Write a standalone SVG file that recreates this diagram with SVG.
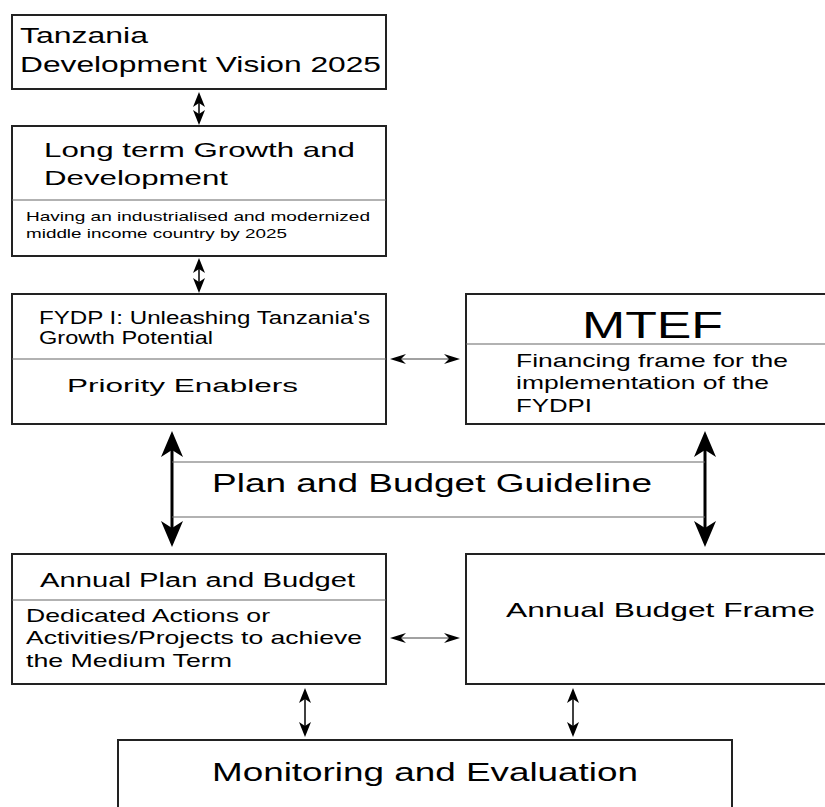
<svg xmlns="http://www.w3.org/2000/svg" width="825" height="807" viewBox="0 0 825 807">
<style>
  .box { fill: #fff; stroke: #222; stroke-width: 2; }
  .div { stroke: #666; stroke-width: 1.2; fill: none; }
  .t { font-family: "Liberation Sans", Arial, sans-serif; fill: #000; }
  .thick { stroke: #000; stroke-width: 3; fill: none; marker-start: url(#hb); marker-end: url(#hb); }
  .small { stroke: #000; stroke-width: 1.5; fill: none; marker-start: url(#hs); marker-end: url(#hs); }
  .horiz { stroke: #444; stroke-width: 1; fill: none; marker-start: url(#hh); marker-end: url(#hh); }
</style>
<defs>
  <marker id="hb" viewBox="0 0 26 22" refX="20" refY="11" markerWidth="26" markerHeight="22" markerUnits="userSpaceOnUse" orient="auto-start-reverse">
    <path d="M26,11 L0,0 L7,11 L0,22 Z" fill="#000"/>
  </marker>
  <marker id="hs" viewBox="0 0 15 12" refX="11" refY="6" markerWidth="15" markerHeight="12" markerUnits="userSpaceOnUse" orient="auto-start-reverse">
    <path d="M15,6 L0,0 L4,6 L0,12 Z" fill="#000"/>
  </marker>
  <marker id="hh" viewBox="0 0 16 10" refX="12" refY="5" markerWidth="16" markerHeight="10" markerUnits="userSpaceOnUse" orient="auto-start-reverse">
    <path d="M16,5 L0,0 L5,5 L0,10 Z" fill="#000"/>
  </marker>
</defs>

<g id="connectors">
  <line class="small" x1="199" y1="96" x2="199" y2="121"/>
  <line class="small" x1="199" y1="262" x2="199" y2="289"/>
  <line class="horiz" x1="394" y1="359" x2="456" y2="359"/>
  <line class="thick" x1="172" y1="437" x2="172" y2="541"/>
  <line class="thick" x1="705" y1="437" x2="705" y2="541"/>
  <line class="horiz" x1="394" y1="638" x2="456" y2="638"/>
  <line class="small" x1="305" y1="692" x2="305" y2="733"/>
  <line class="small" x1="573" y1="692" x2="573" y2="733"/>
</g>

<g id="vision">
  <rect class="box" x="12" y="15" width="374" height="74"/>
  <text class="t" x="20" y="43" font-size="22" textLength="128" lengthAdjust="spacingAndGlyphs">Tanzania</text>
  <text class="t" x="20" y="72" font-size="22" textLength="361" lengthAdjust="spacingAndGlyphs">Development Vision 2025</text>
</g>

<g id="longterm">
  <rect class="box" x="12" y="126" width="374" height="130"/>
  <line class="div" x1="12" y1="200" x2="386" y2="200"/>
  <text class="t" x="44" y="157" font-size="21" textLength="311" lengthAdjust="spacingAndGlyphs">Long term Growth and</text>
  <text class="t" x="44" y="185" font-size="21" textLength="184" lengthAdjust="spacingAndGlyphs">Development</text>
  <text class="t" x="26" y="221" font-size="13" textLength="344" lengthAdjust="spacingAndGlyphs">Having an industrialised and modernized</text>
  <text class="t" x="26" y="238" font-size="13" textLength="261" lengthAdjust="spacingAndGlyphs">middle income country by 2025</text>
</g>

<g id="fydp">
  <rect class="box" x="12" y="294" width="374" height="130"/>
  <line class="div" x1="12" y1="359" x2="386" y2="359"/>
  <text class="t" x="39" y="324" font-size="17.5" textLength="331" lengthAdjust="spacingAndGlyphs">FYDP I: Unleashing Tanzania's</text>
  <text class="t" x="39" y="344" font-size="17.5" textLength="174" lengthAdjust="spacingAndGlyphs">Growth Potential</text>
  <text class="t" x="67" y="392" font-size="18.5" textLength="231" lengthAdjust="spacingAndGlyphs">Priority Enablers</text>
</g>

<g id="mtef">
  <rect class="box" x="466" y="294" width="370" height="130"/>
  <line class="div" x1="466" y1="344" x2="825" y2="344"/>
  <text class="t" x="582" y="338" font-size="37" textLength="141" lengthAdjust="spacingAndGlyphs">MTEF</text>
  <text class="t" x="516" y="367" font-size="18.5" textLength="272" lengthAdjust="spacingAndGlyphs">Financing frame for the</text>
  <text class="t" x="516" y="389" font-size="18.5" textLength="253" lengthAdjust="spacingAndGlyphs">implementation of the</text>
  <text class="t" x="516" y="412" font-size="18.5" textLength="76" lengthAdjust="spacingAndGlyphs">FYDPI</text>
</g>

<g id="guideline">
  <line class="div" x1="172" y1="462" x2="705" y2="462"/>
  <line class="div" x1="172" y1="517" x2="705" y2="517"/>
  <text class="t" x="212" y="492" font-size="26" textLength="440" lengthAdjust="spacingAndGlyphs">Plan and Budget Guideline</text>
</g>

<g id="annualplan">
  <rect class="box" x="12" y="554" width="374" height="130"/>
  <line class="div" x1="12" y1="600" x2="386" y2="600"/>
  <text class="t" x="40" y="587" font-size="19.5" textLength="315" lengthAdjust="spacingAndGlyphs">Annual Plan and Budget</text>
  <text class="t" x="26" y="622" font-size="18.5" textLength="244" lengthAdjust="spacingAndGlyphs">Dedicated Actions or</text>
  <text class="t" x="26" y="644" font-size="18.5" textLength="336" lengthAdjust="spacingAndGlyphs">Activities/Projects to achieve</text>
  <text class="t" x="26" y="667" font-size="18.5" textLength="206" lengthAdjust="spacingAndGlyphs">the Medium Term</text>
</g>

<g id="budgetframe">
  <rect class="box" x="466" y="554" width="370" height="130"/>
  <text class="t" x="506" y="617" font-size="21" textLength="309" lengthAdjust="spacingAndGlyphs">Annual Budget Frame</text>
</g>

<g id="monitoring">
  <rect class="box" x="118" y="740" width="614" height="80"/>
  <text class="t" x="212" y="781" font-size="26.5" textLength="426" lengthAdjust="spacingAndGlyphs">Monitoring and Evaluation</text>
</g>
</svg>
